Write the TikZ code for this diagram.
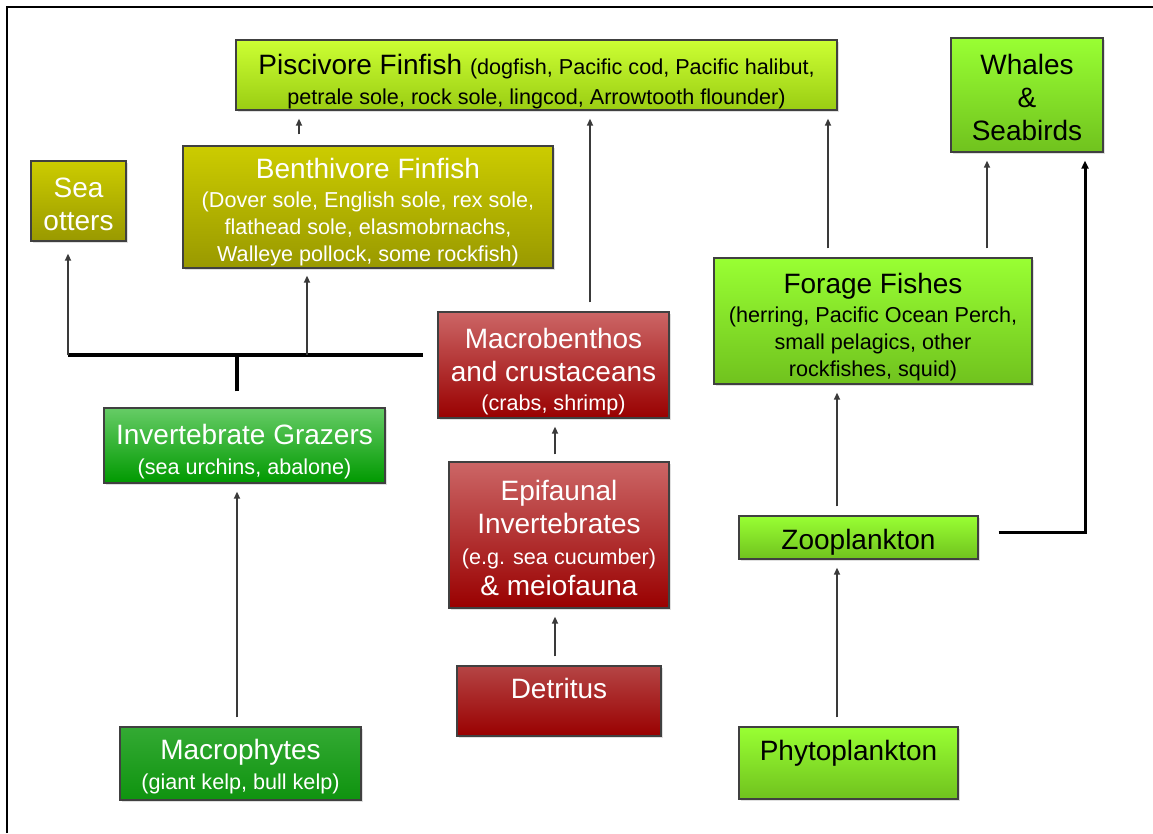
\documentclass[tikz,border=0pt]{standalone}
\usepackage{fontspec}
\setmainfont{Liberation Sans}
\usetikzlibrary{arrows.meta,shadows}
\definecolor{pisctop}{HTML}{CCFF33}
\definecolor{piscbot}{HTML}{9ACD13}
\definecolor{grntop}{HTML}{99FF33}
\definecolor{grnbot}{HTML}{70C21E}
\definecolor{olvtop}{HTML}{CCCC00}
\definecolor{olvbot}{HTML}{999900}
\definecolor{redtop}{HTML}{CC6666}
\definecolor{redbot}{HTML}{990000}
\definecolor{dettop}{HTML}{B54545}
\definecolor{gzrtop}{HTML}{66CC66}
\definecolor{gzrbot}{HTML}{009900}
\definecolor{mphtop}{HTML}{33AA33}
\definecolor{mphbot}{HTML}{0F930F}
\definecolor{arrgray}{HTML}{3A3A3A}
\newcommand{\tsz}{\fontsize{28}{33}\selectfont}
\newcommand{\ssz}{\fontsize{21.6}{26}\selectfont}
\newcommand{\tup}[1]{\rule{0pt}{\dimexpr 21pt+#1pt*2\relax}}
\begin{document}
\begin{tikzpicture}[x=1pt,y=-1pt,
  box/.style={draw=black!75, line width=1.3pt, align=center, inner sep=0pt, font=\tsz,
    drop shadow={shadow xshift=2pt,shadow yshift=-2pt,opacity=0.25}},
  tdown/.style={execute at begin node={\rule{0pt}{\dimexpr 21pt+#1pt*2\relax}}},
  piscbox/.style={box, top color=pisctop, bottom color=piscbot, text=black},
  grnbox/.style={box, top color=grntop, bottom color=grnbot, text=black},
  olvbox/.style={box, top color=olvtop, bottom color=olvbot, text=white},
  redbox/.style={box, top color=redtop, bottom color=redbot, text=white},
  detbox/.style={box, top color=dettop, bottom color=redbot, text=white},
  gzrbox/.style={box, top color=gzrtop, bottom color=gzrbot, text=white},
  mphbox/.style={box, top color=mphtop, bottom color=mphbot, text=white},
  arr/.style={draw=arrgray, line width=1.6pt, -{Triangle[length=7pt,width=6pt]}, shorten >=8pt, shorten <=9pt},
  thickarr/.style={draw=black, line width=3pt, -{Triangle[length=8pt,width=7pt]}, shorten >=8pt},
  bus/.style={draw=black, line width=3.6pt}
]
\path[use as bounding box, fill=white] (0,0) rectangle (1153,833);
\draw[line width=2pt] (7,833) -- (7,7) -- (1153,7);

% nodes
\node[piscbox, minimum width=601pt, minimum height=70pt] (pisc) at (536.5,75)
  {\tup{6}Piscivore Finfish {\ssz (dogfish, Pacific cod, Pacific halibut,}\\[-3pt]{\ssz petrale sole, rock sole, lingcod, Arrowtooth flounder)}};
\node[grnbox, minimum width=152pt, minimum height=114pt] (whales) at (1027,95)
  {\tup{2}Whales\\\&\\Seabirds};
\node[olvbox, minimum width=95pt, minimum height=80pt] (otters) at (78.5,201)
  {\tup{2.5}Sea\\otters};
\node[olvbox, minimum width=370pt, minimum height=122pt] (benth) at (368,207)
  {\tup{5}Benthivore Finfish\\[-4pt]{\ssz (Dover sole, English sole, rex sole,}\\[-6pt]{\ssz flathead sole, elasmobrnachs,}\\[-6pt]{\ssz Walleye pollock, some rockfish)}};
\node[redbox, minimum width=231pt, minimum height=106pt] (macro) at (553.5,365)
  {\tup{6}Macrobenthos\\and crustaceans\\[-4pt]{\ssz (crabs, shrimp)}};
\node[grnbox, minimum width=318pt, minimum height=126pt] (forage) at (873,321)
  {\tup{6}Forage Fishes\\[-4pt]{\ssz (herring, Pacific Ocean Perch,}\\[-6pt]{\ssz small pelagics, other}\\[-6pt]{\ssz rockfishes, squid)}};
\node[gzrbox, minimum width=281pt, minimum height=75pt] (grazers) at (244.5,445.5)
  {\tup{6}Invertebrate Grazers\\[-3pt]{\ssz (sea urchins, abalone)}};
\node[redbox, minimum width=220pt, minimum height=146pt] (epi) at (559,535)
  {\tup{3}Epifaunal\\Invertebrates\\[-2pt]{\ssz (e.g. sea cucumber)}\\[-2pt]\& meiofauna};
\node[grnbox, tdown=4, minimum width=239pt, minimum height=43pt] (zoo) at (858.5,537.5)
  {Zooplankton};
\node[detbox, minimum width=204pt, minimum height=70pt, text height=21pt, text depth=27pt] (det) at (559,701)
  {Detritus};
\node[mphbox, minimum width=241pt, minimum height=73pt] (mph) at (240.5,763.5)
  {\tup{3}Macrophytes\\[-3pt]{\ssz (giant kelp, bull kelp)}};
\node[grnbox, minimum width=219pt, minimum height=72pt, text height=21pt, text depth=27pt] (phyto) at (848.5,763)
  {Phytoplankton};

% column coordinates
\coordinate (c68) at (68,355);
\coordinate (c237) at (237,355);
\coordinate (c299) at (299,0);
\coordinate (c307) at (307,355);
\coordinate (c423) at (423,355);
\coordinate (c555) at (555,0);
\coordinate (c590) at (590,0);
\coordinate (c828) at (828,0);
\coordinate (c837) at (837,0);
\coordinate (c987) at (987,0);
\coordinate (zw) at (1085,532);

% connectors
\draw[arr, shorten <=11pt] (benth.north -| c299) -- (pisc.south -| c299);
\draw[arr] (macro.north -| c590) -- (pisc.south -| c590);
\draw[arr] (forage.north -| c828) -- (pisc.south -| c828);
\draw[arr] (forage.north -| c987) -- (whales.south -| c987);
\draw[thickarr] ([xshift=20pt,yshift=5.5pt]zoo.east) -- (zw) -- (whales.south -| zw);
\draw[arr] (zoo.north -| c837) -- (forage.south -| c837);
\draw[arr] (phyto.north -| c837) -- (zoo.south -| c837);
\draw[arr] (det.north -| c555) -- (epi.south -| c555);
\draw[arr, shorten <=7pt] (epi.north -| c555) -- (macro.south -| c555);
\draw[arr] (mph.north -| c237) -- (grazers.south -| c237);

% grazer bus
\draw[bus] (c423) -- (c68);
\draw[bus] ([yshift=16pt]grazers.north -| c237) -- (c237);
\draw[arr, shorten <=0pt, shorten >=12pt] (c68) -- (otters.south -| c68);
\draw[arr, shorten <=0pt, shorten >=7pt] (c307) -- (benth.south -| c307);
\end{tikzpicture}
\end{document}
